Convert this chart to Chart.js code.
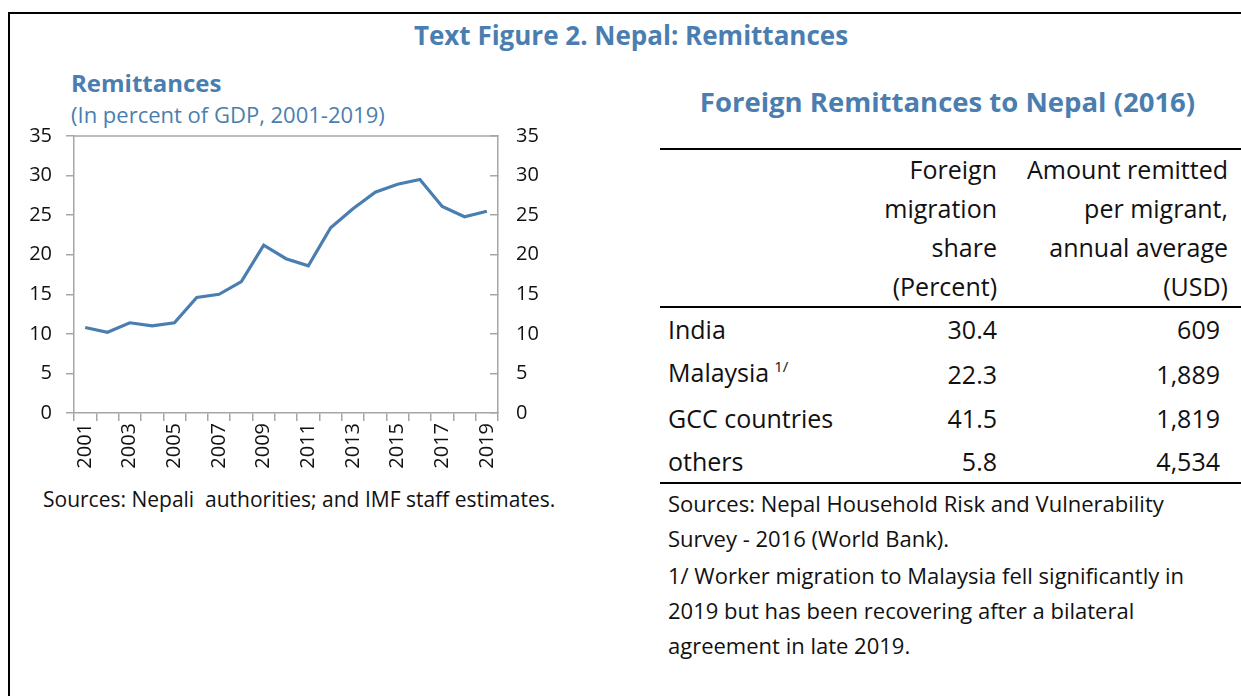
<!DOCTYPE html>
<html>
<head>
<meta charset="utf-8">
<script src="https://cdn.jsdelivr.net/npm/chart.js@4/dist/chart.umd.min.js"></script>
<style>
  html, body { margin:0; padding:0; background:#fff; overflow:hidden; }
  body { width:1241px; height:696px; position:relative; font-family:"Open Sans", sans-serif; color:#111; }
  .frame { position:absolute; left:8px; top:12px; width:1300px; height:800px; border-left:2px solid #000; border-top:2px solid #000; }
  .blue { color:#4a7eb0; }
  .abs { position:absolute; white-space:nowrap; }
  #figTitle { left:0; width:1262px; text-align:center; top:17px; font-size:26px; font-weight:700; }
  #chartTitle { left:71px; top:66px; font-size:24px; font-weight:700; }
  #chartSub { left:71px; top:99px; font-size:22px; }
  #tblTitle { left:660px; width:575px; text-align:center; top:83px; font-size:27.5px; font-weight:700; }
  #remitChart { position:absolute; left:0; top:98px; }
  #srcLeft { left:43px; top:485px; font-size:21px; }
  #srcRight { left:668px; top:486px; font-size:22px; line-height:35px; white-space:normal; width:548px; }
  #srcRight p { margin:0; }
  #srcRight p + p { margin-top:2px; }
  table { position:absolute; left:660px; top:148px; border-collapse:collapse; font-size:25px; }
  th, td { padding:0; font-weight:400; }
  thead tr { border-top:2px solid #000; border-bottom:2px solid #000; }
  tbody tr:last-child { border-bottom:2px solid #000; }
  th { line-height:39px; text-align:right; vertical-align:bottom; }
  td { height:42.5px; line-height:42.5px; }
  .c1 { width:202px; padding-left:8px; text-align:left; }
  .c2 { width:127px; text-align:right; }
  .c3 { width:231px; padding-right:13px; text-align:right; }
  td.c3 { width:223px; padding-right:21px; }
  sup { font-size:15px; vertical-align:0; position:relative; top:-10px; margin-left:5px; }
</style>
</head>
<body>
<div class="frame"></div>
<div id="figTitle" class="abs blue">Text Figure 2. Nepal: Remittances</div>
<div id="chartTitle" class="abs blue">Remittances</div>
<div id="chartSub" class="abs blue">(In percent of GDP, 2001-2019)</div>
<canvas id="remitChart" width="620" height="387"></canvas>
<div id="srcLeft" class="abs">Sources: Nepali&nbsp; authorities; and IMF staff estimates.</div>

<div id="tblTitle" class="abs blue">Foreign Remittances to Nepal (2016)</div>
<table id="remitTable">
  <thead>
    <tr>
      <th class="c1"></th>
      <th class="c2">Foreign<br>migration<br>share<br>(Percent)</th>
      <th class="c3">Amount remitted<br>per migrant,<br>annual average<br>(USD)</th>
    </tr>
  </thead>
  <tbody></tbody>
</table>
<div id="srcRight" class="abs">
  <p>Sources: Nepal Household Risk and Vulnerability Survey - 2016 (World Bank).</p>
  <p>1/ Worker migration to Malaysia fell significantly in 2019 but has been recovering after a bilateral agreement in late 2019.</p>
</div>

<script>
// remittances, percent of GDP
const years = ["2001","2002","2003","2004","2005","2006","2007","2008","2009","2010",
               "2011","2012","2013","2014","2015","2016","2017","2018","2019"];
const remitGDP = [10.8, 10.2, 11.4, 11.0, 11.4, 14.6, 15.0, 16.6, 21.2, 19.5,
                  18.6, 23.4, 25.8, 27.9, 28.9, 29.5, 26.1, 24.8, 25.5];
const yTicks = [0, 5, 10, 15, 20, 25, 30, 35];

// 2016 destination table
const destinations = ["India", "Malaysia", "GCC countries", "others"];
const destNotes = ["", "1/", "", ""];
const migrationShare = [30.4, 22.3, 41.5, 5.8];
const amountPerMigrant = [609, 1889, 1819, 4534];

const BLUE = "#4a7eb0";
const AXIS = "#a6a6a6";
const tickFont = { family: "Open Sans", size: 20 };

const tbody = document.querySelector("#remitTable tbody");
destinations.forEach((name, i) => {
  const tr = document.createElement("tr");
  const note = destNotes[i] ? `<sup>${destNotes[i]}</sup>` : "";
  tr.innerHTML = `<td class="c1">${name}${note}</td>` +
    `<td class="c2">${migrationShare[i].toFixed(1)}</td>` +
    `<td class="c3">${amountPerMigrant[i].toLocaleString("en-US")}</td>`;
  tbody.appendChild(tr);
});

// thin line along the top of the plot area
const topFrame = {
  id: "topFrame",
  afterDraw(chart){
    const { ctx, chartArea: a } = chart;
    ctx.save();
    ctx.strokeStyle = AXIS; ctx.lineWidth = 1.5;
    ctx.beginPath(); ctx.moveTo(a.left, a.top); ctx.lineTo(a.right, a.top); ctx.stroke();
    ctx.restore();
  }
};

const yCommon = {
  min: 0, max: 35,
  afterBuildTicks: s => { s.ticks = yTicks.map(v => ({ value: v })); },
  grid: { drawOnChartArea: false, color: AXIS, lineWidth: 1.5, tickLength: 8 },
  border: { color: AXIS, width: 1.5 },
  ticks: { color: "#111", font: tickFont }
};

new Chart(document.getElementById("remitChart"), {
  type: "line",
  data: {
    labels: years,
    datasets: [{ data: remitGDP, borderColor: BLUE, borderWidth: 3.2, pointRadius: 0, tension: 0, fill: false }]
  },
  options: {
    responsive: false,
    animation: false,
    devicePixelRatio: 1,
    layout: { autoPadding: false, padding: { top: 3, left: 0, right: 0, bottom: 0 } },
    plugins: { legend: { display: false }, tooltip: { enabled: false } },
    scales: {
      x: {
        offset: true,
        grid: { offset: true, drawOnChartArea: false, color: AXIS, lineWidth: 1.5, tickLength: 8 },
        border: { color: AXIS, width: 1.5 },
        ticks: {
          color: "#111", font: tickFont, autoSkip: false, minRotation: 90, maxRotation: 90, padding: 2,
          callback: (v, i) => i % 2 === 0 ? years[i] : ""
        },
        afterFit: s => { s.height = 72; }
      },
      y: { ...yCommon, position: "left",
        ticks: { ...yCommon.ticks, padding: 14 },
        afterFit: s => { s.width = 74; } },
      y2: { ...yCommon, position: "right",
        grid: { ...yCommon.grid, tickLength: -8 },
        ticks: { ...yCommon.ticks, padding: 26 },
        afterFit: s => { s.width = 122; } }
    }
  },
  plugins: [topFrame]
});
</script>
</body>
</html>
